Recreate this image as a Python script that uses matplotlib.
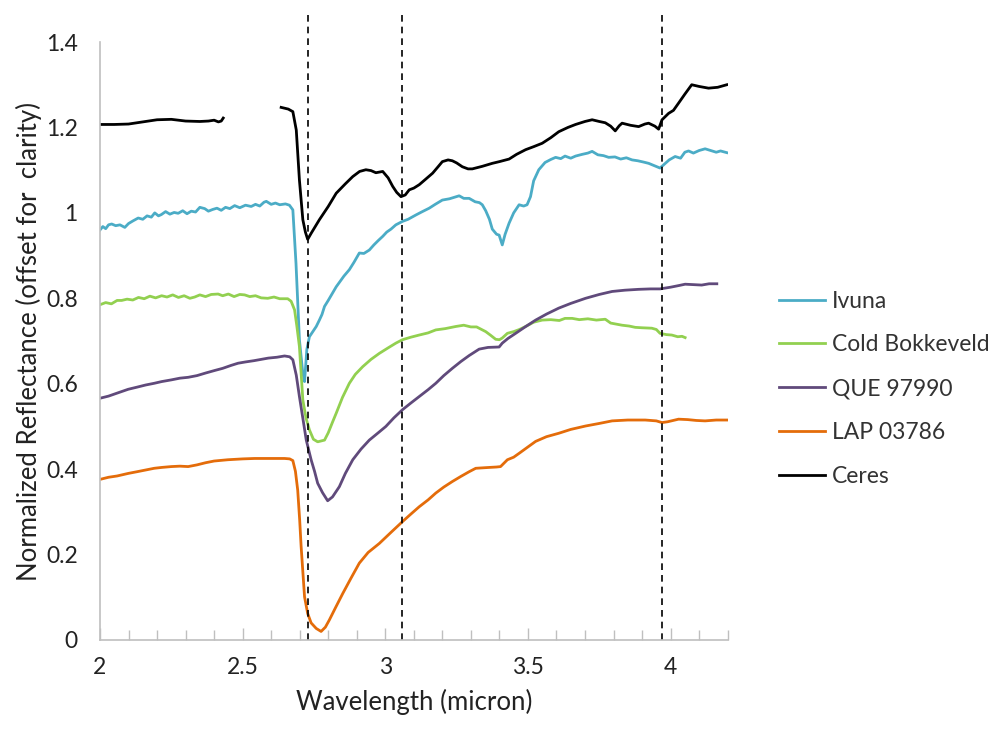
import numpy as np
import matplotlib.pyplot as plt
from matplotlib.ticker import MultipleLocator, FuncFormatter

# spectra: (wavelength in micron, normalized reflectance offset for clarity)
ivuna = np.array([
    (2.000, 0.960), (2.010, 0.968), (2.020, 0.963), (2.030, 0.972), (2.041, 0.974),
    (2.055, 0.970), (2.070, 0.972), (2.087, 0.966), (2.100, 0.975), (2.115, 0.981),
    (2.134, 0.988), (2.150, 0.985), (2.165, 0.993), (2.180, 0.990), (2.192, 1.000),
    (2.205, 0.993), (2.215, 0.996), (2.230, 1.003), (2.245, 0.997), (2.260, 1.001),
    (2.274, 0.999), (2.290, 1.005), (2.305, 0.998), (2.320, 1.004), (2.335, 1.002),
    (2.350, 1.013), (2.367, 1.010), (2.380, 1.004), (2.395, 1.008), (2.410, 1.011),
    (2.425, 1.006), (2.440, 1.013), (2.455, 1.010), (2.472, 1.017), (2.490, 1.012),
    (2.510, 1.018), (2.530, 1.015), (2.545, 1.020), (2.560, 1.016), (2.575, 1.025),
    (2.583, 1.027), (2.600, 1.020), (2.615, 1.023), (2.630, 1.019), (2.650, 1.021),
    (2.664, 1.018), (2.676, 1.007), (2.687, 0.882), (2.699, 0.703), (2.710, 0.630),
    (2.717, 0.605), (2.725, 0.680), (2.734, 0.710), (2.746, 0.722), (2.758, 0.734),
    (2.769, 0.749), (2.778, 0.762), (2.787, 0.781), (2.800, 0.795), (2.815, 0.812),
    (2.828, 0.827), (2.840, 0.838), (2.855, 0.852), (2.874, 0.867), (2.890, 0.884),
    (2.909, 0.906), (2.925, 0.905), (2.944, 0.913), (2.960, 0.925), (2.975, 0.935),
    (2.991, 0.945), (3.005, 0.955), (3.020, 0.962), (3.037, 0.972), (3.060, 0.980),
    (3.080, 0.985), (3.107, 0.995), (3.130, 1.003), (3.154, 1.011), (3.175, 1.020),
    (3.200, 1.030), (3.225, 1.033), (3.245, 1.037), (3.259, 1.040), (3.275, 1.034),
    (3.294, 1.034), (3.315, 1.026), (3.330, 1.024), (3.340, 1.019), (3.352, 1.005),
    (3.365, 0.985), (3.375, 0.962), (3.390, 0.950), (3.399, 0.948), (3.410, 0.925),
    (3.420, 0.950), (3.434, 0.976), (3.450, 1.000), (3.469, 1.019), (3.485, 1.016),
    (3.497, 1.019), (3.509, 1.038), (3.520, 1.075), (3.538, 1.101), (3.560, 1.118),
    (3.580, 1.125), (3.597, 1.130), (3.615, 1.127), (3.630, 1.133), (3.650, 1.128),
    (3.667, 1.133), (3.690, 1.137), (3.710, 1.140), (3.725, 1.144), (3.745, 1.136),
    (3.765, 1.134), (3.783, 1.130), (3.805, 1.131), (3.825, 1.126), (3.845, 1.129),
    (3.865, 1.124), (3.885, 1.122), (3.905, 1.119), (3.923, 1.116), (3.945, 1.110),
    (3.963, 1.105), (3.980, 1.115), (3.995, 1.124), (4.016, 1.132), (4.035, 1.128),
    (4.050, 1.142), (4.063, 1.145), (4.080, 1.140), (4.100, 1.146), (4.121, 1.150),
    (4.140, 1.146), (4.160, 1.142), (4.175, 1.145), (4.197, 1.141),
])

cold_bokkeveld = np.array([
    (2.000, 0.785), (2.020, 0.790), (2.040, 0.787), (2.060, 0.795), (2.076, 0.795),
    (2.095, 0.798), (2.115, 0.796), (2.135, 0.802), (2.155, 0.799), (2.175, 0.805),
    (2.195, 0.801), (2.216, 0.806), (2.235, 0.803), (2.255, 0.808), (2.275, 0.802),
    (2.295, 0.806), (2.315, 0.800), (2.332, 0.803), (2.350, 0.808), (2.370, 0.804),
    (2.390, 0.809), (2.414, 0.810), (2.430, 0.806), (2.450, 0.810), (2.470, 0.804),
    (2.490, 0.809), (2.507, 0.808), (2.525, 0.804), (2.545, 0.806), (2.565, 0.801),
    (2.588, 0.800), (2.610, 0.803), (2.630, 0.799), (2.658, 0.799), (2.670, 0.793),
    (2.682, 0.773), (2.690, 0.735), (2.699, 0.687), (2.711, 0.562), (2.722, 0.520),
    (2.734, 0.492), (2.748, 0.470), (2.763, 0.464), (2.775, 0.466), (2.787, 0.468),
    (2.800, 0.485), (2.815, 0.510), (2.828, 0.531), (2.850, 0.568), (2.874, 0.601),
    (2.895, 0.622), (2.921, 0.640), (2.950, 0.657), (2.979, 0.671), (3.010, 0.684),
    (3.037, 0.695), (3.060, 0.703), (3.090, 0.709), (3.119, 0.714), (3.150, 0.719),
    (3.177, 0.726), (3.210, 0.729), (3.247, 0.734), (3.275, 0.737), (3.300, 0.733),
    (3.320, 0.733), (3.352, 0.722), (3.370, 0.713), (3.387, 0.704), (3.400, 0.703),
    (3.410, 0.707), (3.428, 0.718), (3.450, 0.722), (3.470, 0.727), (3.492, 0.734),
    (3.520, 0.744), (3.550, 0.749), (3.580, 0.750), (3.610, 0.748), (3.630, 0.753),
    (3.655, 0.753), (3.680, 0.750), (3.710, 0.752), (3.740, 0.749), (3.771, 0.751),
    (3.790, 0.742), (3.806, 0.740), (3.830, 0.737), (3.855, 0.735), (3.876, 0.732),
    (3.900, 0.731), (3.934, 0.730), (3.950, 0.727), (3.963, 0.718), (3.985, 0.715),
    (4.004, 0.714), (4.025, 0.710), (4.040, 0.711), (4.051, 0.708),
])

que_97990 = np.array([
    (2.000, 0.566), (2.030, 0.571), (2.060, 0.578), (2.099, 0.587), (2.130, 0.592),
    (2.160, 0.597), (2.190, 0.601), (2.216, 0.605), (2.250, 0.609), (2.280, 0.613),
    (2.309, 0.615), (2.340, 0.619), (2.370, 0.625), (2.402, 0.631), (2.430, 0.636),
    (2.460, 0.643), (2.484, 0.648), (2.510, 0.651), (2.540, 0.654), (2.565, 0.657),
    (2.590, 0.660), (2.620, 0.662), (2.647, 0.665), (2.665, 0.663), (2.676, 0.656),
    (2.688, 0.620), (2.699, 0.570), (2.712, 0.515), (2.723, 0.468), (2.740, 0.422),
    (2.752, 0.395), (2.763, 0.367), (2.780, 0.345), (2.798, 0.326), (2.815, 0.335),
    (2.839, 0.359), (2.860, 0.390), (2.886, 0.422), (2.915, 0.447), (2.944, 0.468),
    (2.975, 0.485), (3.002, 0.500), (3.030, 0.520), (3.060, 0.539), (3.090, 0.555),
    (3.119, 0.570), (3.150, 0.586), (3.177, 0.601), (3.205, 0.619), (3.235, 0.636),
    (3.265, 0.652), (3.294, 0.666), (3.329, 0.681), (3.360, 0.685), (3.399, 0.686),
    (3.410, 0.695), (3.430, 0.706), (3.457, 0.718), (3.490, 0.733), (3.527, 0.749),
    (3.565, 0.763), (3.608, 0.777), (3.650, 0.788), (3.702, 0.800), (3.750, 0.809),
    (3.795, 0.816), (3.840, 0.819), (3.888, 0.821), (3.930, 0.822), (3.963, 0.822),
    (4.000, 0.826), (4.030, 0.830), (4.051, 0.833), (4.080, 0.832), (4.109, 0.831),
    (4.135, 0.834), (4.162, 0.834),
])

lap_03786 = np.array([
    (2.000, 0.376), (2.030, 0.381), (2.060, 0.384), (2.099, 0.390), (2.130, 0.394),
    (2.160, 0.398), (2.190, 0.402), (2.216, 0.404), (2.250, 0.406), (2.280, 0.407),
    (2.309, 0.406), (2.340, 0.410), (2.370, 0.415), (2.400, 0.419), (2.448, 0.422),
    (2.500, 0.424), (2.542, 0.425), (2.590, 0.425), (2.647, 0.425), (2.665, 0.424),
    (2.676, 0.420), (2.685, 0.395), (2.693, 0.351), (2.700, 0.280), (2.705, 0.219),
    (2.711, 0.160), (2.717, 0.101), (2.728, 0.062), (2.740, 0.040), (2.758, 0.027),
    (2.775, 0.020), (2.790, 0.030), (2.804, 0.047), (2.825, 0.075), (2.851, 0.109),
    (2.880, 0.145), (2.909, 0.180), (2.940, 0.205), (2.979, 0.226), (3.020, 0.252),
    (3.060, 0.277), (3.090, 0.295), (3.119, 0.312), (3.150, 0.328), (3.177, 0.344),
    (3.205, 0.358), (3.235, 0.371), (3.265, 0.383), (3.294, 0.394), (3.317, 0.402),
    (3.340, 0.403), (3.364, 0.404), (3.390, 0.405), (3.404, 0.406), (3.428, 0.422),
    (3.450, 0.428), (3.469, 0.437), (3.500, 0.452), (3.527, 0.465), (3.565, 0.476),
    (3.608, 0.484), (3.650, 0.493), (3.702, 0.501), (3.750, 0.507), (3.795, 0.513),
    (3.850, 0.515), (3.911, 0.515), (3.950, 0.513), (3.970, 0.509), (3.990, 0.511),
    (4.028, 0.517), (4.060, 0.516), (4.090, 0.514), (4.121, 0.513), (4.160, 0.515),
    (4.197, 0.515),
])

# Ceres has a gap between the two spectral segments
ceres_short = np.array([
    (2.000, 1.207), (2.050, 1.207), (2.100, 1.208), (2.150, 1.213), (2.200, 1.218),
    (2.250, 1.219), (2.300, 1.215), (2.350, 1.214), (2.380, 1.215), (2.400, 1.217),
    (2.415, 1.213), (2.425, 1.215), (2.432, 1.222),
])

ceres_long = np.array([
    (2.635, 1.247), (2.660, 1.243), (2.676, 1.237), (2.688, 1.194), (2.699, 1.077),
    (2.711, 0.984), (2.720, 0.955), (2.728, 0.938), (2.740, 0.952), (2.769, 0.984),
    (2.800, 1.015), (2.828, 1.046), (2.860, 1.068), (2.886, 1.085), (2.910, 1.097),
    (2.932, 1.101), (2.950, 1.099), (2.967, 1.094), (2.991, 1.097), (3.010, 1.082),
    (3.026, 1.062), (3.040, 1.048), (3.055, 1.038), (3.070, 1.042), (3.084, 1.054),
    (3.100, 1.058), (3.119, 1.066), (3.140, 1.078), (3.166, 1.093), (3.185, 1.108),
    (3.200, 1.120), (3.220, 1.124), (3.235, 1.122), (3.250, 1.117), (3.270, 1.108),
    (3.290, 1.103), (3.305, 1.103), (3.340, 1.109), (3.375, 1.116), (3.400, 1.120),
    (3.434, 1.126), (3.460, 1.137), (3.492, 1.148), (3.520, 1.155), (3.550, 1.163),
    (3.580, 1.176), (3.608, 1.190), (3.640, 1.200), (3.667, 1.207), (3.700, 1.214),
    (3.725, 1.218), (3.750, 1.214), (3.771, 1.211), (3.790, 1.203), (3.806, 1.192),
    (3.820, 1.204), (3.830, 1.210), (3.860, 1.205), (3.888, 1.202), (3.910, 1.208),
    (3.923, 1.210), (3.945, 1.203), (3.958, 1.196), (3.970, 1.218), (3.993, 1.233),
    (4.010, 1.240), (4.028, 1.257), (4.050, 1.278), (4.074, 1.300), (4.100, 1.296),
    (4.133, 1.292), (4.165, 1.294), (4.197, 1.300),
])

band_centers = [2.73, 3.06, 3.97]

plt.rcParams['font.family'] = ['Lato', 'DejaVu Sans']

fig = plt.figure(figsize=(9.9, 7.31), dpi=100)
ax = fig.add_axes([0.101, 0.1245, 0.634, 0.818])

lw = 2.0
ax.plot(ivuna[:, 0], ivuna[:, 1], color='#4BACC6', lw=lw, label='Ivuna')
ax.plot(cold_bokkeveld[:, 0], cold_bokkeveld[:, 1], color='#92D050', lw=lw, label='Cold Bokkeveld')
ax.plot(que_97990[:, 0], que_97990[:, 1], color='#604A7B', lw=lw, label='QUE 97990')
ax.plot(lap_03786[:, 0], lap_03786[:, 1], color='#E46C0A', lw=lw, label='LAP 03786')
ax.plot(ceres_short[:, 0], ceres_short[:, 1], color='black', lw=lw, label='Ceres')
ax.plot(ceres_long[:, 0], ceres_long[:, 1], color='black', lw=lw)

# dashed markers for the absorption band centres, running above the plot area
for xc in band_centers:
    ax.plot([xc, xc], [0, 1.475], color='black', lw=1.2, ls=(0, (4, 3)), clip_on=False)

ax.set_xlim(2, 4.2)
ax.set_ylim(0, 1.4)
ax.xaxis.set_major_locator(MultipleLocator(0.5))
ax.xaxis.set_minor_locator(MultipleLocator(0.1))
ax.yaxis.set_major_locator(MultipleLocator(0.2))
fmt = FuncFormatter(lambda v, pos: f'{v:g}')
ax.xaxis.set_major_formatter(fmt)
ax.yaxis.set_major_formatter(fmt)

for side in ['top', 'right']:
    ax.spines[side].set_visible(False)
for side in ['left', 'bottom']:
    ax.spines[side].set_color('#BFBFBF')
    ax.spines[side].set_linewidth(1.2)

ax.tick_params(axis='x', which='major', direction='in', length=9, width=1, color='#BFBFBF',
               labelsize=16.5, pad=12, labelcolor='#222222')
ax.tick_params(axis='x', which='minor', direction='in', length=7, width=1, color='#BFBFBF')
ax.tick_params(axis='y', which='major', length=0, labelsize=16.5, pad=16, labelcolor='#222222')

ax.set_xlabel('Wavelength (micron)', fontsize=18.5, color='#222222', labelpad=8)
ax.set_ylabel('Normalized Reflectance (offset for  clarity)', fontsize=18.5, color='#222222', labelpad=3)

fig.legend(loc='center left', bbox_to_anchor=(0.766, 0.468), frameon=False, fontsize=16.5,
           handlelength=2.0, handletextpad=0.3, labelspacing=1.0, labelcolor='#333333')

fig.savefig('out.png', dpi=100)
